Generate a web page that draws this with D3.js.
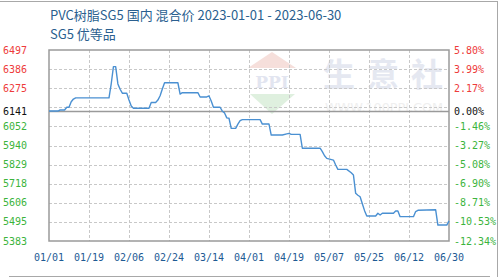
<!DOCTYPE html>
<head>
    <meta charset="utf-8" />
    <title>PVC树脂SG5</title>
</head>
<style>
    body {
        margin: 0;
        background-color: #ffffff;
    }
    .tick-label {
        font-family: "DejaVu Sans Mono", monospace;
        font-size: 10px;
    }
    .grid line {
        stroke: #c8c8c8;
        stroke-width: 1px;
        stroke-dasharray: 3, 2;
        shape-rendering: crispEdges;
    }
</style>
<body>
    <svg id="chart" width="499" height="277"></svg>
    <script src="https://d3js.org/d3.v7.min.js"></script>
    <script>
        // price data (change points)
        var dates = ["01-01", "01-05", "01-06", "01-08", "01-09", "01-10", "01-11", "01-12", "01-13", "01-28",
            "01-29", "01-30", "01-31", "02-01", "02-02", "02-03", "02-05", "02-06", "02-07", "02-08",
            "02-15", "02-16", "02-18", "02-19", "02-20", "02-21", "02-22", "02-28", "03-01", "03-02",
            "03-09", "03-10", "03-13", "03-14", "03-15", "03-16", "03-19", "03-20", "03-21", "03-22",
            "03-23", "03-24", "03-26", "03-27", "03-28", "03-29", "04-06", "04-07", "04-10", "04-11",
            "04-16", "04-18", "04-19", "04-20", "04-24", "04-25", "05-03", "05-04", "05-05", "05-06",
            "05-09", "05-10", "05-11", "05-15", "05-17", "05-18", "05-19", "05-20", "05-21", "05-22",
            "05-23", "05-24", "05-28", "05-29", "05-30", "05-31", "06-05", "06-06", "06-07", "06-08",
            "06-14", "06-15", "06-16", "06-24", "06-25", "06-29", "06-30"];
        var prices = [6141, 6141, 6147, 6147, 6163, 6163, 6195, 6211, 6218, 6218,
            6300, 6400, 6400, 6299, 6268, 6245, 6245, 6205, 6170, 6157,
            6157, 6191, 6191, 6205, 6230, 6270, 6306, 6306, 6240, 6248,
            6248, 6223, 6223, 6229, 6200, 6163, 6163, 6140, 6130, 6101,
            6099, 6040, 6040, 6065, 6085, 6091, 6091, 6065, 6065, 6001,
            6001, 6008, 6011, 6005, 6005, 5924, 5924, 5904, 5880, 5865,
            5855, 5826, 5801, 5801, 5781, 5768, 5661, 5650, 5641, 5600,
            5560, 5529, 5529, 5545, 5535, 5545, 5545, 5558, 5558, 5525,
            5525, 5555, 5562, 5565, 5476, 5476, 5500];

        var basePrice = 6141;
        var leftTicks = [6497, 6386, 6275, 6141, 6052, 5940, 5829, 5718, 5606, 5495, 5383];
        var rightTicks = ["5.80%", "3.99%", "2.17%", "0.00%", "-1.46%", "-3.27%", "-5.08%", "-6.90%", "-8.71%", "-10.53%", "-12.34%"];
        var xTicks = ["01-01", "01-19", "02-06", "02-24", "03-14", "04-01", "04-19", "05-07", "05-25", "06-12", "06-30"];

        var titleText = "PVC树脂SG5 国内 混合价 2023-01-01 - 2023-06-30";
        var subTitle = "SG5 优等品";

        var plot = { left: 49, right: 449, top: 50, bottom: 241 };

        var parse = d3.utcParse("%Y-%m-%d");
        function toDate(md) { return parse("2023-" + md); }

        var data = dates.map(function(d, i) {
            return { date: toDate(d), price: prices[i] };
        });

        var x = d3.scaleUtc()
            .domain([toDate("01-01"), toDate("06-30")])
            .range([plot.left, plot.right]);
        var y = d3.scaleLinear()
            .domain([5383, 6497])
            .range([plot.bottom, plot.top]);

        var svg = d3.select("#chart");

        // outer frame
        svg.append("line").attr("x1", 0).attr("x2", 498).attr("y1", 1.5).attr("y2", 1.5)
            .attr("stroke", "#a8a8a8");
        svg.append("line").attr("x1", 497.5).attr("x2", 497.5).attr("y1", 1).attr("y2", 277)
            .attr("stroke", "#a8a8a8");
        svg.append("line").attr("x1", 9).attr("x2", 490).attr("y1", 276.5).attr("y2", 276.5)
            .attr("stroke", "#a8a8a8");

        // title
        svg.append("text")
            .attr("x", 50).attr("y", 20)
            .attr("font-family", "Noto Sans CJK SC")
            .attr("font-size", "13px")
            .attr("fill", "#2a5f8f")
            .text(titleText);
        svg.append("text")
            .attr("x", 50).attr("y", 39)
            .attr("font-family", "Noto Sans CJK SC")
            .attr("font-size", "13px")
            .attr("fill", "#2a5f8f")
            .text(subTitle);

        // watermark
        var wm = svg.append("g").attr("opacity", 0.9);
        wm.append("path")
            .attr("d", "M272,52 L296,68 L248,68 Z")
            .attr("fill", "#f6dcd8");
        wm.append("text")
            .attr("x", 272).attr("y", 88)
            .attr("text-anchor", "middle")
            .attr("font-family", "DejaVu Serif")
            .attr("font-weight", "bold")
            .attr("font-size", "17px")
            .attr("fill", "#dfe3ef")
            .text("PPI");
        wm.append("path")
            .attr("d", "M250,94 L295,94 L272,114 Z")
            .attr("fill", "#dcefdc");
        wm.append("text")
            .attr("x", 323).attr("y", 86)
            .attr("font-family", "Noto Sans CJK SC")
            .attr("font-weight", "bold")
            .attr("font-size", "32px")
            .attr("letter-spacing", "12px")
            .attr("fill", "#e3e6f0")
            .text("生意社");
        wm.append("text")
            .attr("x", 325).attr("y", 112)
            .attr("font-family", "DejaVu Sans")
            .attr("font-size", "13px")
            .attr("textLength", 118)
            .attr("lengthAdjust", "spacingAndGlyphs")
            .attr("fill", "#eeeeee")
            .text("WWW.100PPI.COM");

        // grid
        var gridVals = d3.range(11).map(function(i) { return 5383 + i * (6497 - 5383) / 10; });
        svg.append("g").attr("class", "grid")
            .selectAll("line.h").data(gridVals.slice(1, 10)).enter().append("line")
            .attr("x1", plot.left).attr("x2", plot.right)
            .attr("y1", function(d) { return Math.round(y(d)) + 0.5; })
            .attr("y2", function(d) { return Math.round(y(d)) + 0.5; });
        svg.append("g").attr("class", "grid")
            .selectAll("line.v").data(xTicks.slice(1, 10)).enter().append("line")
            .attr("y1", plot.top).attr("y2", plot.bottom)
            .attr("x1", function(d) { return Math.round(x(toDate(d))) + 0.5; })
            .attr("x2", function(d) { return Math.round(x(toDate(d))) + 0.5; });

        // base line
        svg.append("line")
            .attr("x1", plot.left).attr("x2", plot.right)
            .attr("y1", Math.round(y(basePrice)) + 0.5).attr("y2", Math.round(y(basePrice)) + 0.5)
            .attr("stroke", "#9a9a9a").attr("stroke-width", 1.5);

        // plot frame
        svg.append("rect")
            .attr("x", plot.left).attr("y", plot.top)
            .attr("width", plot.right - plot.left).attr("height", plot.bottom - plot.top)
            .attr("fill", "none").attr("stroke", "#9a9a9a").attr("stroke-width", 1.5);

        // price line
        var line = d3.line()
            .x(function(d) { return x(d.date); })
            .y(function(d) { return y(d.price); });
        svg.append("path")
            .datum(data)
            .attr("d", line)
            .attr("fill", "none")
            .attr("stroke", "#4a90d2")
            .attr("stroke-width", 1.4)
            .attr("stroke-linejoin", "round");

        function tickColor(v) {
            if (v > basePrice) return "#ee3b3b";
            if (v < basePrice) return "#3cb43c";
            return "#111111";
        }

        // left axis labels
        svg.append("g").selectAll("text").data(leftTicks).enter().append("text")
            .attr("class", "tick-label")
            .attr("x", 27)
            .attr("y", function(d) { return y(d) + 3.5; })
            .attr("text-anchor", "end")
            .attr("fill", tickColor)
            .text(function(d) { return d; });

        // right axis labels
        svg.append("g").selectAll("text").data(rightTicks).enter().append("text")
            .attr("class", "tick-label")
            .attr("x", 454)
            .attr("y", function(d, i) { return y(leftTicks[i]) + 3.5; })
            .attr("fill", function(d, i) { return tickColor(leftTicks[i]); })
            .text(function(d) { return d; });

        // x axis labels
        svg.append("g").selectAll("text").data(xTicks).enter().append("text")
            .attr("class", "tick-label")
            .attr("x", function(d) { return x(toDate(d)); })
            .attr("y", 261)
            .attr("text-anchor", "middle")
            .attr("fill", "#1d5a94")
            .text(function(d) { return d.replace("-", "/"); });
    </script>
</body>
